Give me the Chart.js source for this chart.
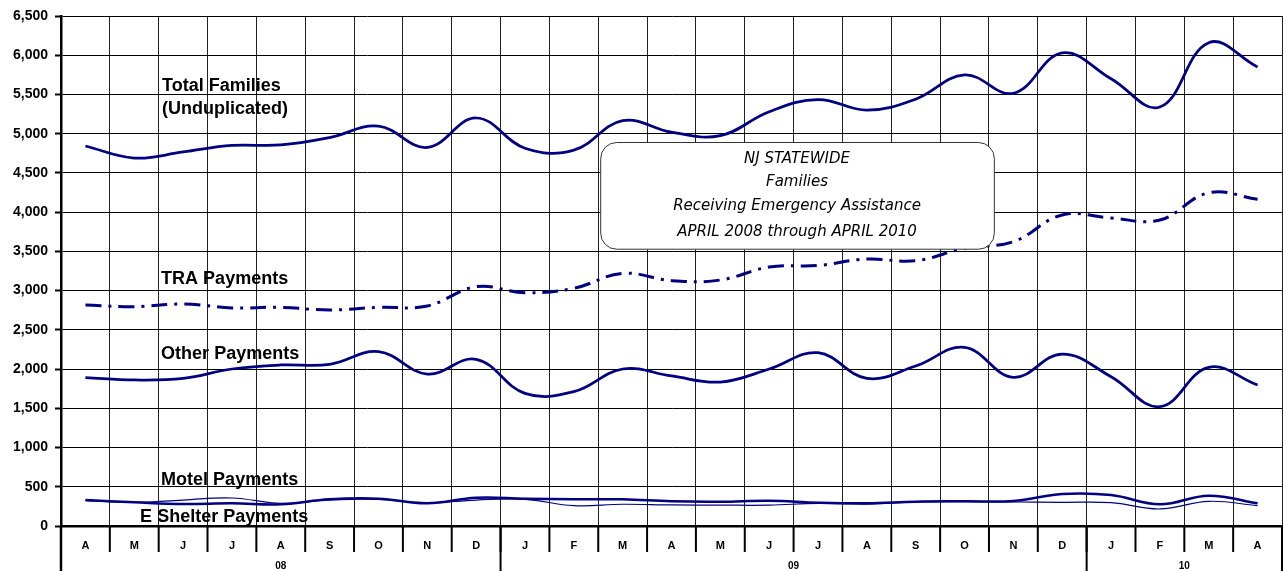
<!DOCTYPE html>
<html><head><meta charset="utf-8">
<script src="https://cdn.jsdelivr.net/npm/chart.js@4/dist/chart.umd.min.js"></script>
<style>html,body{margin:0;padding:0;background:#fff;}#wrap{width:1283px;height:571px;}</style>
</head><body><div id="wrap"><canvas id="c" width="1283" height="571"></canvas></div>
<script>
const months = ['A','M','J','J','A','S','O','N','D','J','F','M','A','M','J','J','A','S','O','N','D','J','F','M','A'];
const yearLabels = ['08','09','10'];
const yearStarts = [0, 9, 21];
const totalFamilies = [4843,4690,4767,4850,4856,4950,5095,4825,5200,4815,4790,5166,5020,4975,5280,5435,5300,5440,5750,5515,6030,5700,5340,6160,5850];
const traPayments   = [2817,2795,2829,2780,2787,2753,2787,2804,3050,2974,3030,3220,3127,3135,3300,3320,3403,3380,3540,3624,3964,3925,3900,4248,4164];
const otherPayments = [1890,1861,1882,2001,2052,2060,2222,1937,2124,1691,1712,2001,1912,1835,2001,2209,1882,2039,2277,1895,2192,1903,1521,2022,1797];
const motelPayments = [331,302,280,289,277,340,348,289,361,348,340,340,315,310,323,297,289,310,315,319,408,395,277,387,289];
const eShelterPayments = [323,302,331,357,289,331,340,297,331,340,259,277,268,266,266,289,280,306,310,306,302,297,217,315,259];
const yTicks = {min:0, max:6500, step:500};
const seriesLabels = ['Total Families','TRA Payments','Other Payments','Motel Payments','E Shelter Payments'];
const titleLines = ['NJ STATEWIDE','Families','Receiving Emergency Assistance','APRIL 2008 through APRIL 2010'];

const NAVY = '#000080';
const labelFont = 'bold 18px "Liberation Sans", Arial, sans-serif';

// annotation text anchors in scale units (x = category index, y = value at baseline)
const annotations = [
  {text:'Total Families', x:1.57, y:5544},
  {text:'(Unduplicated)', x:1.57, y:5250},
  {text:'TRA Payments', x:1.55, y:3090},
  {text:'Other Payments', x:1.55, y:2130},
  {text:'Motel Payments', x:1.55, y:525},
  {text:'E Shelter Payments', x:1.12, y:55}
];

const decor = {
  id:'decor',
  afterDatasetsDraw(chart){
    const ctx = chart.ctx, xs = chart.scales.x, ys = chart.scales.y;
    ctx.save();
    ctx.font = labelFont; ctx.fillStyle = '#000'; ctx.textAlign='left'; ctx.textBaseline='alphabetic';
    annotations.forEach(a => ctx.fillText(a.text, xs.getPixelForValue(a.x), ys.getPixelForValue(a.y)));
    const bx1 = xs.getPixelForValue(10.54), bx2 = xs.getPixelForValue(18.6);
    const by1 = ys.getPixelForValue(4894), by2 = ys.getPixelForValue(3534);
    ctx.beginPath();
    ctx.roundRect(bx1+0.5, by1+0.5, bx2-bx1, by2-by1, 16);
    ctx.fillStyle='#fff'; ctx.fill();
    ctx.lineWidth=1; ctx.strokeStyle='#333'; ctx.stroke();
    ctx.fillStyle='#000'; ctx.textAlign='center'; ctx.textBaseline='middle';
    ctx.font='italic 15px "DejaVu Sans", Verdana, sans-serif';
    const cx = (bx1+bx2)/2;
    const offs = [17.5, 40, 64.5, 90];
    titleLines.forEach((t,i)=>ctx.fillText(t, cx, by1+offs[i]));
    ctx.restore();
  },
  afterDraw(chart){
    const ctx = chart.ctx, xs = chart.scales.x, ca = chart.chartArea;
    const H = chart.height;
    const half = (xs.getPixelForValue(1)-xs.getPixelForValue(0))/2;
    const bnd = i => xs.getPixelForValue(i) - half;
    ctx.save();
    ctx.strokeStyle='#000';
    ctx.lineWidth=2;
    for(let i=1;i<months.length;i++){
      ctx.beginPath(); ctx.moveTo(bnd(i), ca.bottom); ctx.lineTo(bnd(i), ca.bottom+26); ctx.stroke();
    }
    const seps = yearStarts.concat([months.length]);
    seps.forEach((s,k)=>{
      ctx.lineWidth = (k===0)?2.5:2;
      ctx.beginPath(); ctx.moveTo(bnd(s), ca.bottom); ctx.lineTo(bnd(s), H); ctx.stroke();
    });
    ctx.fillStyle='#000'; ctx.font='bold 10px "Liberation Sans", Arial, sans-serif';
    ctx.textAlign='center'; ctx.textBaseline='middle';
    yearLabels.forEach((y,k)=>{
      const a = bnd(yearStarts[k]), b = bnd(k+1<yearStarts.length?yearStarts[k+1]:months.length);
      ctx.fillText(y, (a+b)/2, H-5);
    });
    ctx.restore();
  }
};

const mk = (label, data, w, dash) => ({
  label, data, borderColor:NAVY, backgroundColor:NAVY, borderWidth:w,
  borderDash:dash||[], pointRadius:0, tension:0.4, fill:false
});

new Chart(document.getElementById('c'), {
  type:'line',
  data:{
    labels: months,
    datasets:[
      mk(seriesLabels[0], totalFamilies, 2.75),
      mk(seriesLabels[1], traPayments, 3, [16,7,3,7]),
      mk(seriesLabels[2], otherPayments, 2.75),
      mk(seriesLabels[3], motelPayments, 2.5),
      mk(seriesLabels[4], eShelterPayments, 1.2)
    ]
  },
  options:{
    responsive:false, animation:false,
    layout:{padding:{top:16,right:1,left:0,bottom:0}},
    plugins:{legend:{display:false}, tooltip:{enabled:false}},
    scales:{
      x:{
        type:'category', offset:true,
        grid:{offset:true, color:'#222', lineWidth:1, drawTicks:false},
        border:{display:true, color:'#000', width:2.5},
        ticks:{color:'#000', font:{family:'"Liberation Sans", Arial, sans-serif', weight:'bold', size:11}, padding:13, maxRotation:0, autoSkip:false},
        afterFit(s){ s.height = 45; }
      },
      y:{
        min:yTicks.min, max:yTicks.max,
        grid:{color:'#000', lineWidth:1, tickLength:6, tickWidth:2, tickColor:'#000'},
        border:{display:true, color:'#000', width:2.5},
        ticks:{stepSize:yTicks.step, color:'#000', padding:7,
          font:{family:'"Liberation Sans", Arial, sans-serif', weight:'bold', size:14},
          callback:v=>v.toLocaleString('en-US')},
        afterFit(s){ s.width = 61; }
      }
    }
  },
  plugins:[decor]
});
</script></body></html>
